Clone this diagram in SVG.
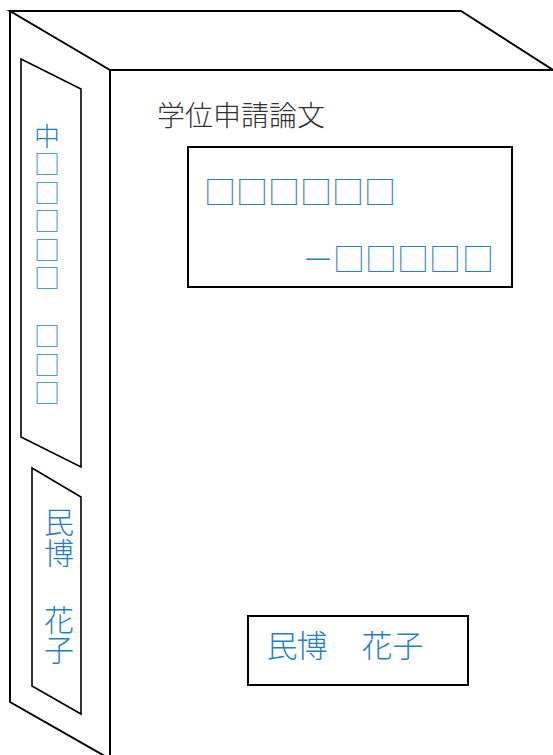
<svg xmlns="http://www.w3.org/2000/svg" width="553" height="755" viewBox="0 0 553 755">
<style>
.ln{fill:none;stroke:#000;stroke-width:2;stroke-linejoin:miter}
.pn{fill:none;stroke:#000;stroke-width:1.6}
.bl{fill:#1f7fcf;font-family:"Noto Sans CJK JP","Noto Sans",sans-serif;font-weight:300;text-anchor:middle;dominant-baseline:central}
.tt{fill:#333;font-family:"Noto Sans CJK JP","Noto Sans",sans-serif;font-size:28px;font-weight:300}
</style>
<rect width="553" height="755" fill="#fff"/>
<g id="book">
<polyline class="ln" points="110,70 10,11 461,11 553,70"/>
<line class="ln" x1="110" y1="70" x2="553" y2="70"/>
<polyline class="ln" points="10,11 10,702 110,759"/>
<line class="ln" x1="110" y1="70" x2="110" y2="755"/>
</g>
<g id="spine-title">
<polygon class="pn" points="21,59 81,89 81,467 21,437"/>
<text class="bl" font-size="26" x="47 47 47 47 47 47 47 47 47" y="134 162.5 191.5 219.5 248.5 276.5 334 363 391">中□□□□□□□□</text>
</g>
<g id="spine-name">
<polygon class="pn" points="32,468 81,497 81,714 32,686"/>
<text class="bl" font-size="30" x="59 59 59 59" y="520 551 618 648">民博花子</text>
</g>
<g id="front-title">
<text class="tt" x="157" y="126">学位申請論文</text>
</g>
<g id="front-label">
<rect class="ln" x="188" y="147" width="324" height="140"/>
<text class="bl" font-size="32" x="220 252 284 316 348 380" y="190 190 190 190 190 190">□□□□□□</text>
<text class="bl" font-size="32" x="318 349 381 413 445 478" y="257 257 257 257 257 257">－□□□□□</text>
</g>
<g id="front-name">
<rect class="ln" x="248" y="616" width="220" height="69"/>
<text class="bl" font-size="31" x="282 312 345 377 408" y="643 643 643 643 643">民博　花子</text>
</g>
</svg>
